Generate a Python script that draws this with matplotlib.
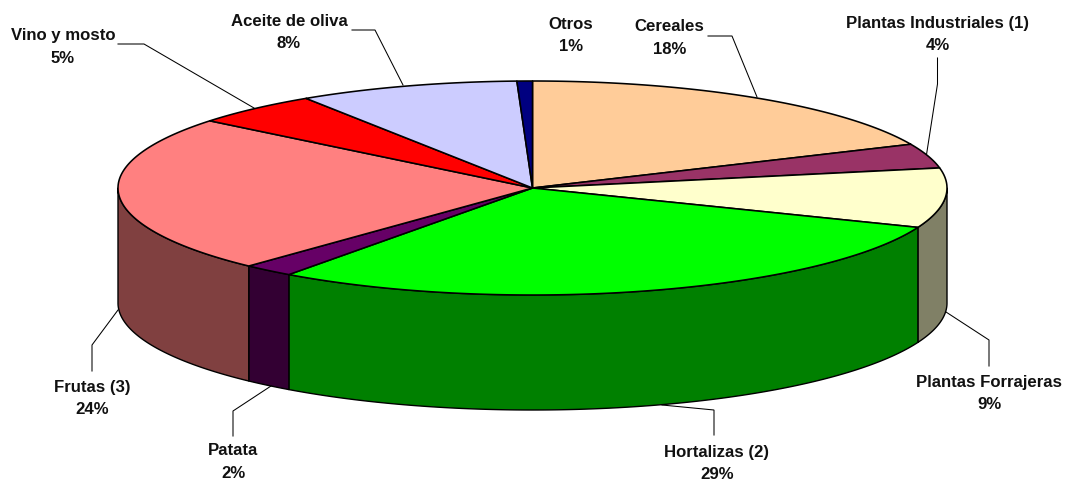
import numpy as np
import matplotlib
matplotlib.use("Agg")
import matplotlib.pyplot as plt
from matplotlib.patches import Polygon

# ---- data (clockwise from 12 o'clock) ----
categories = ["Cereales", "Plantas Industriales (1)", "Plantas Forrajeras",
              "Hortalizas (2)", "Patata", "Frutas (3)", "Vino y mosto",
              "Aceite de oliva", "Otros"]
values = [18.3, 3.7, 9.0, 29.0, 2.0, 23.8, 5.0, 8.6, 0.6]
percent_labels = ["18%", "4%", "9%", "29%", "2%", "24%", "5%", "8%", "1%"]
top_colors = ["#FFCC99", "#993366", "#FFFFCC", "#00FF00", "#660066",
              "#FF8080", "#FF0000", "#CCCCFF", "#000080"]
side_colors = ["#806650", "#4D1A33", "#808066", "#008000", "#330033",
               "#804040", "#800000", "#666680", "#000040"]
label_xy = [(669.5, 37), (938, 33.5), (989, 392.5), (717, 462.5), (233, 461),
            (92.5, 397.5), (63, 46), (289, 31.5), (571, 34.5)]
leaders = [
    [(708, 37), (732, 37), (757, 98)],
    [(937.5, 59), (937.5, 85), (926.6, 155)],
    [(989, 367), (989, 341), (946, 313)],
    [(714, 436), (714, 411), (662, 406)],
    [(233, 437), (233, 412), (271, 387)],
    [(92, 372), (92, 346), (118, 311)],
    [(118, 45), (144, 45), (254, 109)],
    [(352, 31), (375, 31), (403, 86)],
    None,
]

# ---- geometry of the projected pie, in pixels ----
CX, CY, RX, RY, DEPTH = 532.5, 189.0, 414.5, 107.0, 115.0
W, H = 1066, 481

fig = plt.figure(figsize=(W / 100, H / 100), dpi=100, facecolor="white")
ax = fig.add_axes([0, 0, 1, 1])
ax.set_xlim(0, W)
ax.set_ylim(H, 0)
ax.axis("off")


def rim(a0, a1):
    t = np.radians(np.linspace(a0, a1, max(int(abs(a1 - a0) * 3), 2)))
    return np.column_stack([CX + RX * np.sin(t), CY - RY * np.cos(t)])


edges = np.concatenate([[0], np.cumsum(values)]) / np.sum(values) * 360.0

# outer side wall (only the front half, 90..270 degrees, is visible)
for i in range(len(values)):
    a0, a1 = max(edges[i], 90.0), min(edges[i + 1], 270.0)
    if a1 <= a0:
        continue
    upper = rim(a0, a1)
    lower = upper[::-1] + np.array([0, DEPTH])
    ax.add_patch(Polygon(np.vstack([upper, lower]), closed=True,
                         facecolor=side_colors[i], edgecolor="black",
                         linewidth=1.0, joinstyle="round", zorder=2))

# top face
for i in range(len(values)):
    pts = np.vstack([[CX, CY], rim(edges[i], edges[i + 1])])
    ax.add_patch(Polygon(pts, closed=True, facecolor=top_colors[i],
                         edgecolor="black", linewidth=1.15,
                         joinstyle="round", zorder=3))

# leader lines
for pts in leaders:
    if pts is not None:
        xs, ys = zip(*pts)
        ax.plot(xs, ys, color="black", linewidth=0.75, zorder=4,
                solid_joinstyle="miter")

# labels
for name, pct, (x, y) in zip(categories, percent_labels, label_xy):
    ax.text(x, y + 1.0, f"{name}\n{pct}", ha="center", va="center",
            family="Liberation Sans", fontweight="bold", fontsize=12.1,
            color="#111111", linespacing=1.65, zorder=5)

fig.savefig("out.png", dpi=100, facecolor="white")
